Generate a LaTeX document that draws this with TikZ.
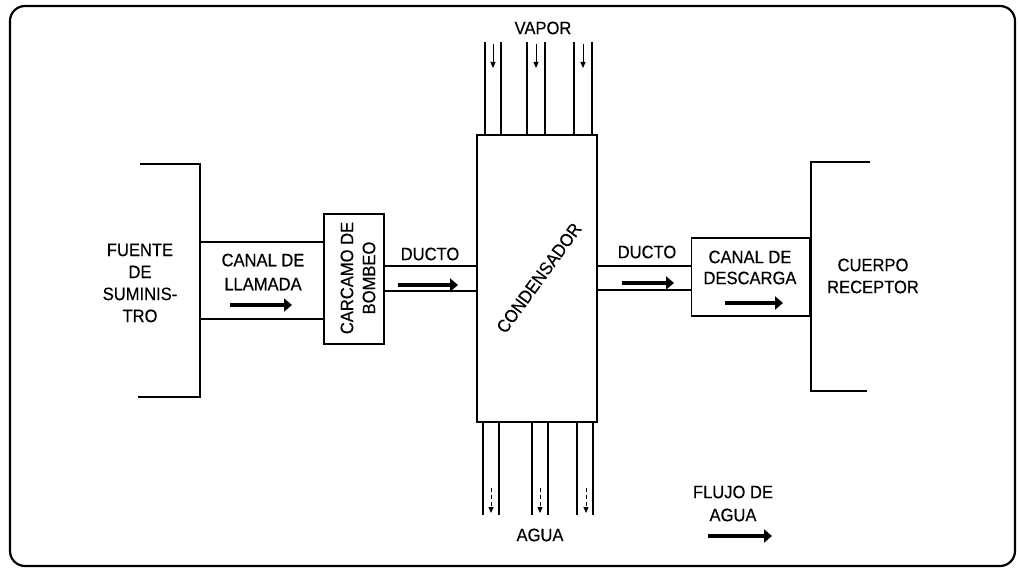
\documentclass[tikz,border=0pt]{standalone}
\usepackage{fontspec}
\setmainfont{Liberation Sans}[FakeStretch=0.92,FakeBold=0.4]
\usetikzlibrary{arrows.meta}
\begin{document}
\begin{tikzpicture}[x=1pt,y=-1pt, line width=1.5pt,
  lbl/.style={font=\fontsize{18}{22}\selectfont, align=center, inner sep=0pt},
  flow/.style={line width=4.5pt, -{Triangle[length=8pt,width=13pt]}},
  vflow/.style={line width=0.9pt, -{Triangle[length=6pt,width=5pt]}},
  pipe/.style={line width=1.3pt},
  box/.style={draw, inner sep=0pt, line width=1.6pt}]
\useasboundingbox (0,0) rectangle (1018,569);
\draw[line width=2.2pt, rounded corners=15pt] (10,6) rectangle (1015,566);

% boxes
\node[box, minimum width=60pt, minimum height=130pt] (carc) at (354,279) {};
\node[box, minimum width=120pt, minimum height=287pt] (cond) at (537,278.5) {};
\node[box, minimum width=118pt, minimum height=78pt] (desc) at (750.5,277) {};

% brackets
\coordinate (fa) at (140,164);
\coordinate (fb) at (200,164);
\coordinate (fc) at (200,397);
\coordinate (fd) at (138,397);
\draw (fa) -- (fb) -- (fc) -- (fd);
\coordinate (ra) at (870,162);
\coordinate (rb) at (811,162);
\coordinate (rc) at (811,391);
\coordinate (rd) at (867,391);
\draw (ra) -- (rb) -- (rc) -- (rd);

% canal de llamada
\draw (200,242) -- (carc.west |- 0,242);
\draw (200,319) -- (carc.west |- 0,319);
% ductos
\draw (carc.east |- 0,266) -- (cond.west |- 0,266);
\draw (carc.east |- 0,291) -- (cond.west |- 0,291);
\draw (cond.east |- 0,266) -- (desc.west |- 0,266);
\draw (cond.east |- 0,290) -- (desc.west |- 0,290);

% vapor pipes
\foreach \x in {485,501,527,545,574,592}
  \draw[pipe] (\x,42) -- (\x,0 |- cond.north);
\foreach \x in {493,536,583}
  \draw[vflow] (\x,44) -- (\x,68);
% agua pipes
\foreach \x in {483,499,532,548,577,593}
  \draw[pipe] (\x,0 |- cond.south) -- (\x,515);
\foreach \x in {491,540,586}
  \draw[vflow, dash pattern=on 4pt off 3pt] (\x,488) -- (\x,513);

% labels
\node[lbl] (fuente) at (140,283) {FUENTE\\DE\\SUMINIS-\\TRO};
\node[lbl, font=\fontsize{18}{24}\selectfont] (llam) at (263,272) {CANAL DE\\LLAMADA};
\node[lbl, rotate=90] (carct) at (358,278) {CARCAMO DE\\BOMBEO};
\node[lbl] (d1) at (430,254) {DUCTO};
\node[lbl, rotate=54] (condt) at (539,278) {CONDENSADOR};
\node[lbl] (d2) at (647,252) {DUCTO};
\node[lbl, font=\fontsize{18}{21}\selectfont] (desct) at (750,267.5) {CANAL DE\\DESCARGA};
\node[lbl] (rec) at (873,276) {CUERPO\\RECEPTOR};
\node[lbl] (vapor) at (543,28) {VAPOR};
\node[lbl] (agua) at (540,535) {AGUA};
\node[lbl, font=\fontsize{18}{23}\selectfont] (flujo) at (733,503.5) {FLUJO DE\\AGUA};

% flow arrows
\coordinate (a1) at (230,305); \coordinate (b1) at (292,305);
\draw[flow] (a1) -- (b1);
\coordinate (a2) at (398,285); \coordinate (b2) at (458,285);
\draw[flow] (a2) -- (b2);
\coordinate (a3) at (622,283); \coordinate (b3) at (674,283);
\draw[flow] (a3) -- (b3);
\coordinate (a4) at (725,303); \coordinate (b4) at (783,303);
\draw[flow] (a4) -- (b4);
\coordinate (a5) at (708,536); \coordinate (b5) at (772,536);
\draw[flow] (a5) -- (b5);
\end{tikzpicture}
\end{document}
